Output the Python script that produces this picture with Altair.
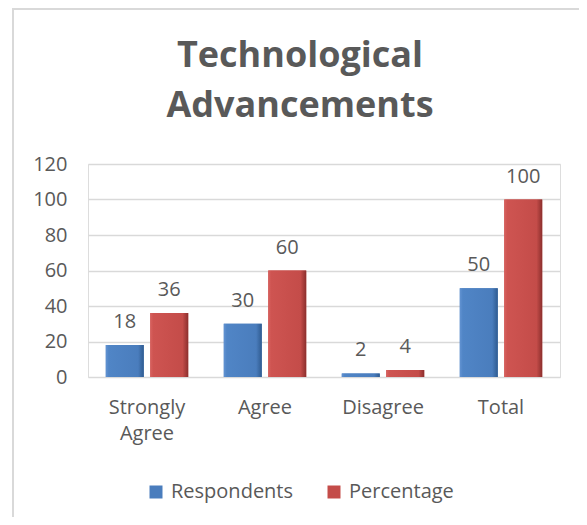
import altair as alt
import pandas as pd

categories = ["Strongly Agree", "Agree", "Disagree", "Total"]
series_names = ["Respondents", "Percentage"]
respondents = [18, 30, 2, 50]
percentage = [36, 60, 4, 100]

rows = []
for c, r, p in zip(categories, respondents, percentage):
    rows.append({"category": c, "series": "Respondents", "value": r})
    rows.append({"category": c, "series": "Percentage", "value": p})
df = pd.DataFrame(rows)

FONT = "Open Sans"
TXT = "#595959"
FS = 20

blue_grad = {
    "gradient": "linear", "x1": 0, "y1": 0, "x2": 1, "y2": 0,
    "stops": [
        {"offset": 0, "color": "#6293D2"},
        {"offset": 0.08, "color": "#5085C6"},
        {"offset": 0.85, "color": "#4A7DBD"},
        {"offset": 1, "color": "#2F5B90"},
    ],
}
red_grad = {
    "gradient": "linear", "x1": 0, "y1": 0, "x2": 1, "y2": 0,
    "stops": [
        {"offset": 0, "color": "#D8625F"},
        {"offset": 0.08, "color": "#CE5451"},
        {"offset": 0.85, "color": "#C44C49"},
        {"offset": 1, "color": "#8C2F2D"},
    ],
}

x_enc = alt.X(
    "category:N",
    sort=categories,
    scale=alt.Scale(paddingInner=0, paddingOuter=0),
    axis=alt.Axis(
        title=None, labelAngle=0, ticks=False, domain=False,
        labelFont=FONT, labelFontSize=FS, labelColor=TXT,
        labelPadding=20, labelLineHeight=26, labelBaseline="top",
        labelExpr="datum.value == 'Strongly Agree' ? ['Strongly', 'Agree'] : datum.value",
    ),
)
xoff_enc = alt.XOffset(
    "series:N", sort=series_names,
    scale=alt.Scale(domain=series_names, paddingInner=0.146, paddingOuter=0.4),
)
y_enc = alt.Y(
    "value:Q",
    scale=alt.Scale(domain=[0, 120]),
    axis=alt.Axis(
        title=None, values=[0, 20, 40, 60, 80, 100, 120], ticks=False, domain=False,
        labelFont=FONT, labelFontSize=FS, labelColor=TXT, labelPadding=21,
        gridColor="#D9D9D9", gridWidth=1.5,
    ),
)

base = alt.Chart(df)

bars_solid = base.mark_bar().encode(
    x=x_enc, xOffset=xoff_enc, y=y_enc,
    color=alt.Color(
        "series:N", sort=series_names,
        scale=alt.Scale(domain=series_names, range=["#4A7DBD", "#C44C49"]),
        legend=alt.Legend(
            title=None, orient="none", direction="horizontal",
            legendX=58, legendY=318,
            symbolType="square", symbolSize=169, symbolStrokeWidth=0,
            labelFont=FONT, labelFontSize=FS, labelColor=TXT,
            labelOffset=5, columnPadding=30,
        ),
    ),
)

bars_grad = base.mark_bar().encode(
    x=x_enc, xOffset=xoff_enc, y=y_enc,
    fill=alt.condition(alt.datum.series == "Respondents", alt.value(blue_grad), alt.value(red_grad)),
)

labels = base.mark_text(
    baseline="alphabetic", dy=-17, font=FONT, fontSize=FS, color=TXT
).encode(
    x=x_enc, xOffset=xoff_enc, y=y_enc, text=alt.Text("value:Q"),
)

border_left = alt.Chart(pd.DataFrame({"a": [0]})).mark_rule(color="#D9D9D9", strokeWidth=2).encode(
    x=alt.value(-75), y=alt.value(-156), y2=alt.value(353)
)
border_top = alt.Chart(pd.DataFrame({"a": [0]})).mark_rule(color="#D9D9D9", strokeWidth=2).encode(
    x=alt.value(-76), x2=alt.value(491), y=alt.value(-155)
)

chart = alt.layer(bars_solid, bars_grad, labels, border_left, border_top).properties(
    width=472,
    height=213,
    autosize=alt.AutoSizeParams(type="none"),
    padding={"left": 80, "top": 156, "right": 19, "bottom": 140},
    title=alt.TitleParams(
        text=["Technological", "Advancements"],
        font=FONT, fontSize=36, fontWeight="bold", color=TXT,
        lineHeight=50, anchor="middle", dx=-24, offset=0, baseline="bottom", dy=154,
    ),
).configure_view(stroke=None).configure(background="white")

chart.save("out.html", embed_options={"renderer": "svg", "actions": False})
